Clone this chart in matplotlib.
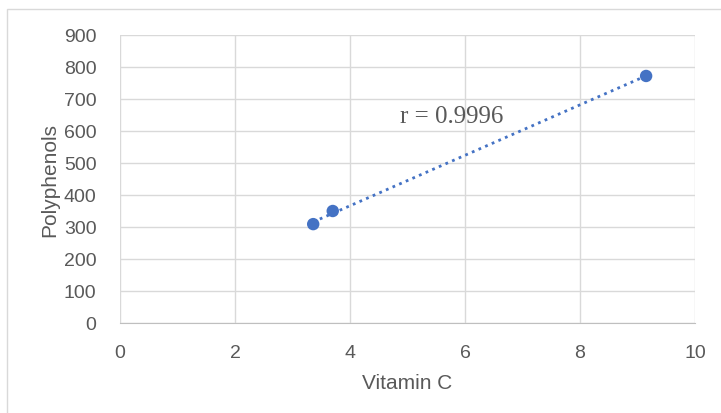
import matplotlib.pyplot as plt
import numpy as np
from matplotlib.patches import Rectangle

# data
vitamin_c = [3.36, 3.70, 9.15]
polyphenols = [309, 350, 772]
x_ticks = [0, 2, 4, 6, 8, 10]
y_ticks = [0, 100, 200, 300, 400, 500, 600, 700, 800, 900]
r_label = 'r = 0.9996'

blue = '#4472C4'
grey_text = '#595959'
grid_col = '#D9D9D9'

plt.rcParams['font.family'] = ['Liberation Sans', 'DejaVu Sans']

fig = plt.figure(figsize=(7.21, 4.14), dpi=100)
fig.patches.append(Rectangle((7 / 721, -0.05), 1.0, 1.05 - 10 / 414, transform=fig.transFigure,
                             fill=False, edgecolor='#D9D9D9', lw=1.0))
ax = fig.add_axes([120 / 721, 90 / 414, 575 / 721, 288 / 414])

# linear trendline
coef = np.polyfit(vitamin_c, polyphenols, 1)
xs = np.array([min(vitamin_c), max(vitamin_c)])
ax.plot(xs, np.polyval(coef, xs), color=blue, lw=2, ls=(0, (1, 1.6)), zorder=2)
ax.scatter(vitamin_c, polyphenols, s=80, color=blue, zorder=3, edgecolors='none')

ax.set_xlim(0, 10)
ax.set_ylim(0, 900)
ax.set_xticks(x_ticks)
ax.set_yticks(y_ticks)
ax.grid(True, color=grid_col, lw=1)
ax.set_axisbelow(True)
for side in ['top', 'right', 'left']:
    ax.spines[side].set_visible(False)
ax.spines['bottom'].set_color('#BFBFBF')
ax.tick_params(axis='x', length=0, labelsize=14, colors=grey_text, pad=15)
ax.tick_params(axis='y', length=0, labelsize=14, colors=grey_text, pad=17)

ax.set_xlabel('Vitamin C', fontsize=15, color=grey_text, labelpad=9)
ax.set_ylabel('Polyphenols', fontsize=15, color=grey_text, labelpad=3)

ax.text(4.87, 648, r_label, fontsize=18, color=grey_text, family=['Liberation Serif', 'DejaVu Serif'],
        va='center', ha='left')

fig.savefig('out.png', dpi=100)
